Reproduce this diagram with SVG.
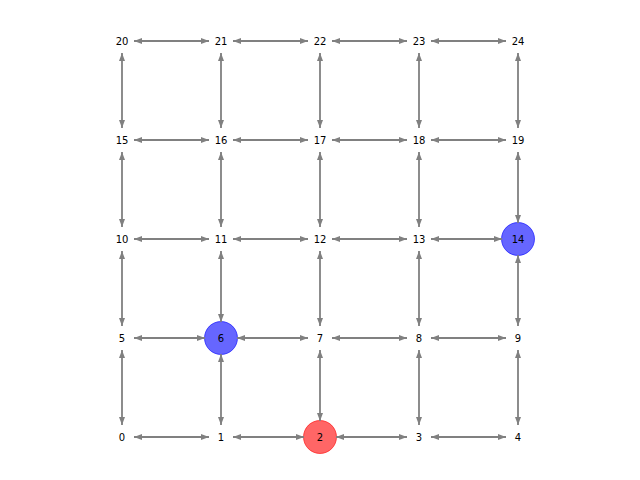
<svg xmlns="http://www.w3.org/2000/svg" width="640" height="480" viewBox="0 0 640 480">
<defs>
<marker id="ah" markerUnits="userSpaceOnUse" markerWidth="10" markerHeight="8" viewBox="0 -4 9 8" refX="8" refY="0" orient="auto-start-reverse"><path d="M0,-3 L8,0 L0,3 z" fill="#808080"/></marker>
<style>
.e{stroke:#808080;stroke-width:1.8;fill:none;marker-start:url(#ah);marker-end:url(#ah)}
.t{font-family:"DejaVu Sans",sans-serif;font-size:10px;fill:#000;text-anchor:middle;dominant-baseline:central}
.r{fill:#ff0000;fill-opacity:0.6;stroke:#ff0000;stroke-opacity:0.6}
.b{fill:#0000ff;fill-opacity:0.6;stroke:#0000ff;stroke-opacity:0.6}
</style>
</defs>
<rect width="640" height="480" fill="#fff"/>
<g id="n2c"><circle class="r" cx="320" cy="437" r="16.5"/></g>
<g id="n6c"><circle class="b" cx="221" cy="338" r="16.5"/></g>
<g id="n14c"><circle class="b" cx="518" cy="239" r="16.5"/></g>
<g id="edges">
<line class="e" x1="134" y1="437" x2="209" y2="437"/>
<line class="e" x1="233" y1="437" x2="304" y2="437"/>
<line class="e" x1="336" y1="437" x2="407" y2="437"/>
<line class="e" x1="431" y1="437" x2="506" y2="437"/>
<line class="e" x1="134" y1="338" x2="205" y2="338"/>
<line class="e" x1="237" y1="338" x2="308" y2="338"/>
<line class="e" x1="332" y1="338" x2="407" y2="338"/>
<line class="e" x1="431" y1="338" x2="506" y2="338"/>
<line class="e" x1="134" y1="239" x2="209" y2="239"/>
<line class="e" x1="233" y1="239" x2="308" y2="239"/>
<line class="e" x1="332" y1="239" x2="407" y2="239"/>
<line class="e" x1="431" y1="239" x2="502" y2="239"/>
<line class="e" x1="134" y1="140" x2="209" y2="140"/>
<line class="e" x1="233" y1="140" x2="308" y2="140"/>
<line class="e" x1="332" y1="140" x2="407" y2="140"/>
<line class="e" x1="431" y1="140" x2="506" y2="140"/>
<line class="e" x1="134" y1="41" x2="209" y2="41"/>
<line class="e" x1="233" y1="41" x2="308" y2="41"/>
<line class="e" x1="332" y1="41" x2="407" y2="41"/>
<line class="e" x1="431" y1="41" x2="506" y2="41"/>
<line class="e" x1="122" y1="425" x2="122" y2="350"/>
<line class="e" x1="122" y1="326" x2="122" y2="251"/>
<line class="e" x1="122" y1="227" x2="122" y2="152"/>
<line class="e" x1="122" y1="128" x2="122" y2="53"/>
<line class="e" x1="221" y1="425" x2="221" y2="354"/>
<line class="e" x1="221" y1="322" x2="221" y2="251"/>
<line class="e" x1="221" y1="227" x2="221" y2="152"/>
<line class="e" x1="221" y1="128" x2="221" y2="53"/>
<line class="e" x1="320" y1="421" x2="320" y2="350"/>
<line class="e" x1="320" y1="326" x2="320" y2="251"/>
<line class="e" x1="320" y1="227" x2="320" y2="152"/>
<line class="e" x1="320" y1="128" x2="320" y2="53"/>
<line class="e" x1="419" y1="425" x2="419" y2="350"/>
<line class="e" x1="419" y1="326" x2="419" y2="251"/>
<line class="e" x1="419" y1="227" x2="419" y2="152"/>
<line class="e" x1="419" y1="128" x2="419" y2="53"/>
<line class="e" x1="518" y1="425" x2="518" y2="350"/>
<line class="e" x1="518" y1="326" x2="518" y2="255"/>
<line class="e" x1="518" y1="223" x2="518" y2="152"/>
<line class="e" x1="518" y1="128" x2="518" y2="53"/>
</g>
<g id="n0"><text class="t" x="122" y="437">0</text></g>
<g id="n1"><text class="t" x="221" y="437">1</text></g>
<g id="n2"><text class="t" x="320" y="437">2</text></g>
<g id="n3"><text class="t" x="419" y="437">3</text></g>
<g id="n4"><text class="t" x="518" y="437">4</text></g>
<g id="n5"><text class="t" x="122" y="338">5</text></g>
<g id="n6"><text class="t" x="221" y="338">6</text></g>
<g id="n7"><text class="t" x="320" y="338">7</text></g>
<g id="n8"><text class="t" x="419" y="338">8</text></g>
<g id="n9"><text class="t" x="518" y="338">9</text></g>
<g id="n10"><text class="t" x="122" y="239">10</text></g>
<g id="n11"><text class="t" x="221" y="239">11</text></g>
<g id="n12"><text class="t" x="320" y="239">12</text></g>
<g id="n13"><text class="t" x="419" y="239">13</text></g>
<g id="n14"><text class="t" x="518" y="239">14</text></g>
<g id="n15"><text class="t" x="122" y="140">15</text></g>
<g id="n16"><text class="t" x="221" y="140">16</text></g>
<g id="n17"><text class="t" x="320" y="140">17</text></g>
<g id="n18"><text class="t" x="419" y="140">18</text></g>
<g id="n19"><text class="t" x="518" y="140">19</text></g>
<g id="n20"><text class="t" x="122" y="41">20</text></g>
<g id="n21"><text class="t" x="221" y="41">21</text></g>
<g id="n22"><text class="t" x="320" y="41">22</text></g>
<g id="n23"><text class="t" x="419" y="41">23</text></g>
<g id="n24"><text class="t" x="518" y="41">24</text></g>
</svg>
